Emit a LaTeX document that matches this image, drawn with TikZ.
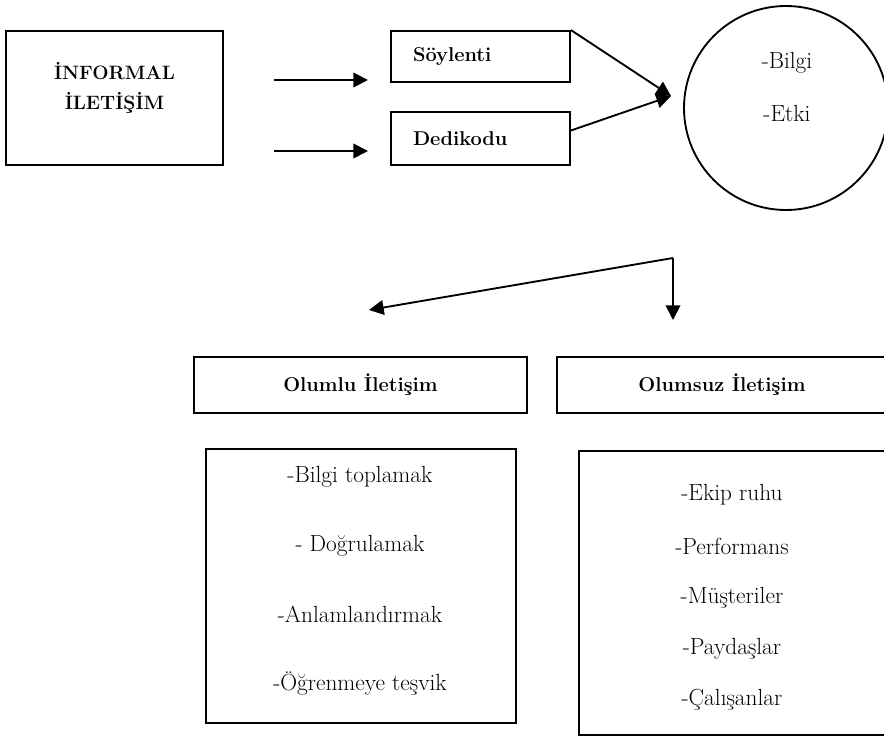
\documentclass[tikz,border=0pt]{standalone}
\usepackage{fontspec}
\usepackage{tikz}
\usetikzlibrary{arrows.meta}

\tikzset{
  box/.style={draw, line width=1.4pt, inner sep=0pt},
  arr/.style={-{Triangle[length=11pt,width=11pt]}, line width=1.4pt},
  bodytext/.style={font=\fontsize{17.5}{20}\selectfont},
  headtext/.style={font=\fontsize{15}{18}\selectfont\bfseries},
}

\begin{document}
\begin{tikzpicture}[x=0.75pt, y=-0.75pt]
  \useasboundingbox (0,0) rectangle (884,738);
  \clip (0,0) rectangle (884,738);

  % Source box
  \node[box, minimum width=162.75pt, minimum height=100.5pt] (inf) at (114.5,98) {};
  \node[headtext, align=center, font=\fontsize{14.5}{22.5}\selectfont\bfseries] (inftxt) at (114.5,88) {İNFORMAL\\İLETİŞİM};

  % Two channels
  \node[box, headtext, text width=101.25pt, inner xsep=16.5pt, minimum height=38.25pt, align=left] (soy) at (480.5,56.5) {Söylenti};
  \node[box, headtext, text width=101.25pt, inner xsep=16.5pt, minimum height=39.75pt, align=left] (dedi) at (480.5,138.5) {Dedikodu};

  \coordinate (a1) at (274,80);
  \coordinate (e1) at (368,80);
  \coordinate (a2) at (274,151);
  \coordinate (e2) at (368,151);
  \draw[arr] (a1) -- (e1);
  \draw[arr] (a2) -- (e2);

  % Result circle
  \node[box, circle, minimum size=153pt] (circ) at (786,108) {};
  \node[bodytext] (bilgi) at (787,63) {-Bilgi};
  \node[bodytext] (etki) at (787,113) {-Etki};

  \coordinate (tip) at (671,96);
  \draw[arr] (soy.north east) -- (tip);
  \draw[arr] ([yshift=6pt]dedi.east) -- (tip);

  % Split into two kinds
  \coordinate (split) at (673,258);
  \coordinate (lefttip) at (369,310);
  \coordinate (downtip) at (673,320);
  \draw[arr] (split) -- (lefttip);
  \draw[arr] (split) -- (downtip);

  \node[box, headtext, minimum width=249.75pt, minimum height=42pt] (olumlu) at (360.5,385) {Olumlu İletişim};
  \node[box, headtext, minimum width=247.5pt, minimum height=42pt] (olumsuz) at (722,385) {Olumsuz İletişim};

  % Lists
  \node[box, minimum width=232.5pt, minimum height=205.5pt] (pos) at (361,586) {};
  \foreach \t [count=\i] in {-Bilgi toplamak, - Doğrulamak, -Anlamlandırmak, -Öğrenmeye teşvik}
    \node[bodytext] (pos\i) at (360,{477+68.7*(\i-1)}) {\t};

  \node[box, minimum width=229.5pt, minimum height=213pt] (neg) at (732,593) {};
  \foreach \t [count=\i] in {-Ekip ruhu, -Performans, -Müşteriler, -Paydaşlar, -Çalışanlar}
    \node[bodytext] (neg\i) at (732,{495+51.25*(\i-1)}) {\t};
\end{tikzpicture}
\end{document}
